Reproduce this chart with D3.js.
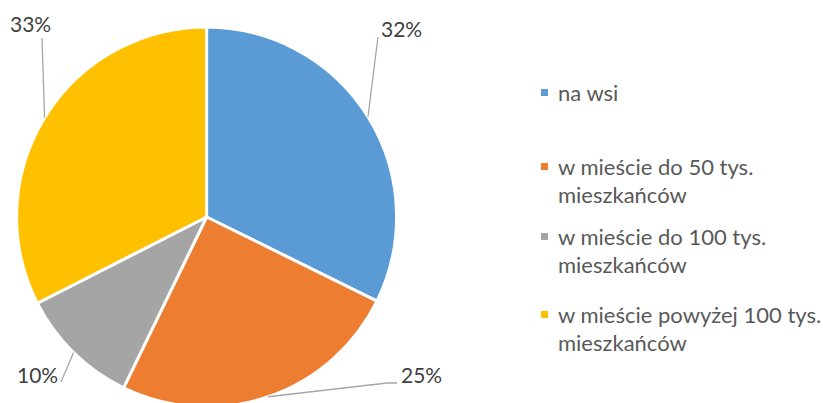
<!DOCTYPE html>
<html><head><meta charset="utf-8">
<script src="https://cdn.jsdelivr.net/npm/d3@7"></script>
<style>
html,body{margin:0;padding:0;background:#fff;}
svg{display:block;}
</style></head>
<body>
<svg id="chart" width="823" height="403"></svg>
<script>
const categories = ["na wsi", "w mieście do 50 tys. mieszkańców", "w mieście do 100 tys. mieszkańców", "w mieście powyżej 100 tys. mieszkańców"];
const legendLines = [["na wsi"], ["w mieście do 50 tys.", "mieszkańców"], ["w mieście do 100 tys.", "mieszkańców"], ["w mieście powyżej 100 tys.", "mieszkańców"]];
const values = [32.3, 24.9, 10.3, 32.5];
const valueLabels = ["32%", "25%", "10%", "33%"];
const colors = ["#5B9BD5", "#ED7D31", "#A5A5A5", "#FFC000"];

const FONT = "Lato, 'Open Sans', sans-serif";
const svg = d3.select("#chart");
const cx = 206.6, cy = 217, R = 190;

const pie = d3.pie().sort(null).value(d => d)(values);
const arc = d3.arc().innerRadius(0).outerRadius(R);

const g = svg.append("g").attr("transform", `translate(${cx},${cy})`);
g.selectAll("path.slice").data(pie).join("path")
  .attr("class", "slice")
  .attr("d", arc)
  .attr("fill", (d, i) => colors[i])
  .attr("stroke", "#fff")
  .attr("stroke-width", 3)
  .attr("stroke-linejoin", "round");

// label layout (positions in page coords): text x, baseline y, leader-line points
const labelLayout = [
  {x: 381, y: 37, pts: [[378, 37]]},
  {x: 401, y: 383, pts: [[397, 383], [387, 383]]},
  {x: 17, y: 383, pts: [[61, 382]]},
  {x: 10, y: 32, pts: [[42, 38]]}
];

pie.forEach((d, i) => {
  const mid = (d.startAngle + d.endAngle) / 2;
  const p0 = [cx + R * Math.sin(mid), cy - R * Math.cos(mid)];
  const L = labelLayout[i];
  const linePts = [p0, ...[...L.pts].reverse()];
  svg.append("path")
    .attr("d", d3.line()(linePts))
    .attr("fill", "none")
    .attr("stroke", "#A6A6A6")
    .attr("stroke-width", 1.3);
  svg.append("text")
    .attr("x", L.x).attr("y", L.y)
    .attr("font-family", FONT)
    .attr("font-size", 21)
    .attr("fill", "#404040")
    .text(valueLabels[i]);
});

// legend
const legendX = 541, textX = 558;
const legendTop = [101, 175, 245, 323];
const lineH = 28;
const lg = svg.append("g");
legendLines.forEach((lines, i) => {
  lg.append("rect")
    .attr("x", legendX).attr("y", legendTop[i] - 12)
    .attr("width", 7).attr("height", 7)
    .attr("fill", colors[i]);
  const t = lg.append("text")
    .attr("font-family", FONT)
    .attr("font-size", 22)
    .attr("fill", "#595959");
  lines.forEach((ln, j) => {
    t.append("tspan").attr("x", textX).attr("y", legendTop[i] + j * lineH).text(ln);
  });
});
</script>
</body></html>
